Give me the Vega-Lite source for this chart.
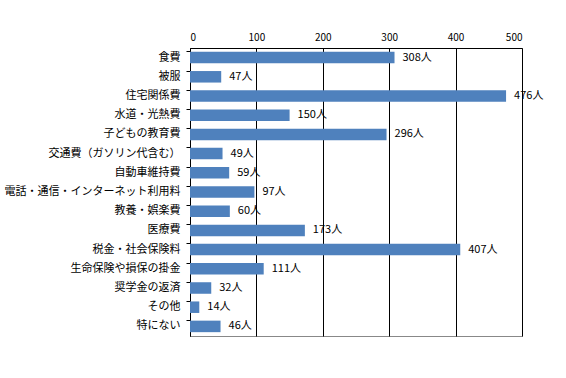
{
  "$schema": "https://vega.github.io/schema/vega-lite/v6.json",
  "autosize": "none",
  "width": 332,
  "height": 288,
  "padding": {"left": 190, "top": 48, "right": 44, "bottom": 42},
  "background": "white",
  "config": {
    "view": {"stroke": "#888888", "strokeWidth": 1},
    "font": "Noto Sans CJK JP"
  },
  "data": {
    "values": [
      {"item": "食費", "n": 308, "label": "308人"},
      {"item": "被服", "n": 47, "label": "47人"},
      {"item": "住宅関係費", "n": 476, "label": "476人"},
      {"item": "水道・光熱費", "n": 150, "label": "150人"},
      {"item": "子どもの教育費", "n": 296, "label": "296人"},
      {"item": "交通費（ガソリン代含む）", "n": 49, "label": "49人"},
      {"item": "自動車維持費", "n": 59, "label": "59人"},
      {"item": "電話・通信・インターネット利用料", "n": 97, "label": "97人"},
      {"item": "教養・娯楽費", "n": 60, "label": "60人"},
      {"item": "医療費", "n": 173, "label": "173人"},
      {"item": "税金・社会保険料", "n": 407, "label": "407人"},
      {"item": "生命保険や損保の掛金", "n": 111, "label": "111人"},
      {"item": "奨学金の返済", "n": 32, "label": "32人"},
      {"item": "その他", "n": 14, "label": "14人"},
      {"item": "特にない", "n": 46, "label": "46人"}
    ]
  },
  "encoding": {
    "y": {
      "field": "item",
      "type": "nominal",
      "sort": null,
      "scale": {"paddingInner": 0.4, "paddingOuter": 0.2},
      "axis": {
        "title": null,
        "domainColor": "black",
        "tickColor": "black",
        "tickSize": 4,
        "bandPosition": 0,
        "labelFontSize": 11,
        "labelColor": "black",
        "labelPadding": 6,
        "labelLimit": 300,
        "grid": false
      }
    }
  },
  "layer": [
    {
      "mark": {"type": "bar", "color": "#4F81BD"},
      "encoding": {
        "x": {
          "field": "n",
          "type": "quantitative",
          "scale": {"domain": [0, 500], "nice": false},
          "axis": {
            "orient": "top",
            "title": null,
            "values": [0, 100, 200, 300, 400, 500],
            "grid": true,
            "gridColor": "black",
            "gridOpacity": 1,
            "gridWidth": 1,
            "domainColor": "black",
            "ticks": false,
            "labelPadding": 6,
            "labelFontSize": 10,
            "labelColor": "black"
          }
        }
      }
    },
    {
      "mark": {"type": "text", "align": "left", "dx": 8, "fontSize": 11, "color": "black"},
      "encoding": {
        "x": {"field": "n", "type": "quantitative"},
        "text": {"field": "label"}
      }
    }
  ]
}
